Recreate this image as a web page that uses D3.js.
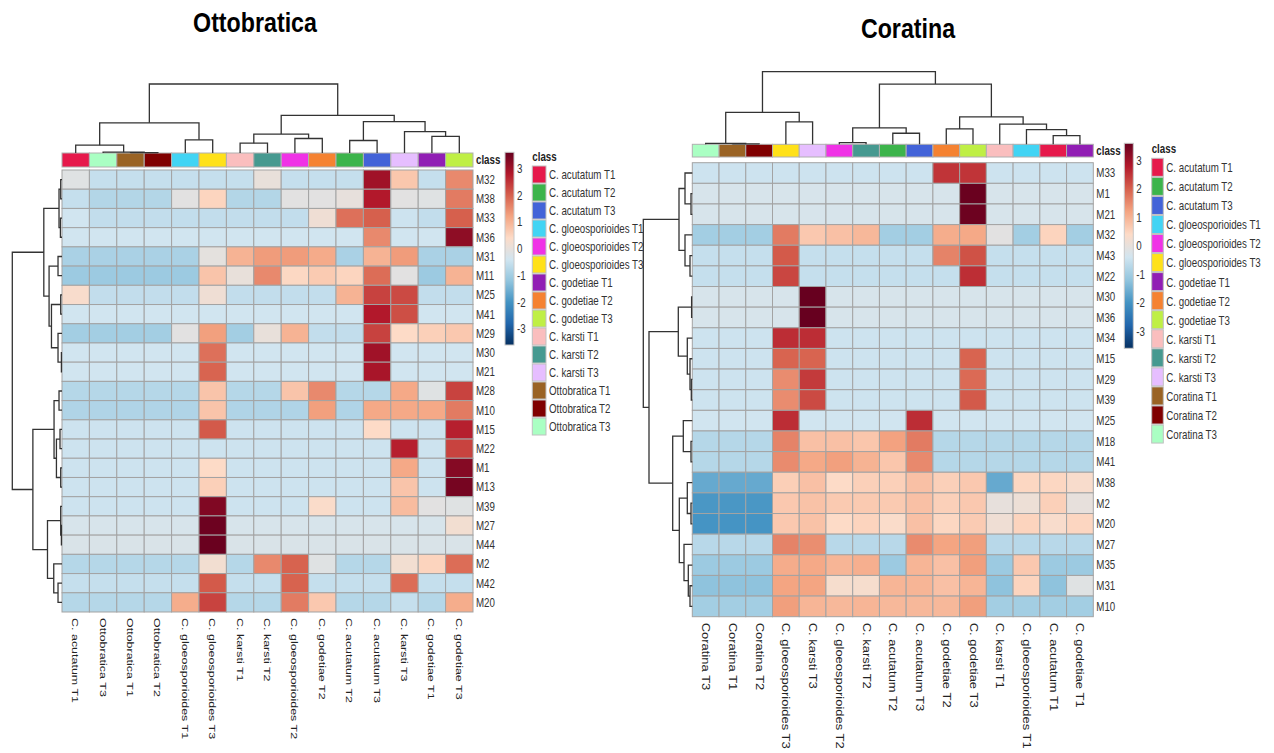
<!DOCTYPE html>
<html>
<head>
<meta charset="utf-8">
<script src="https://cdn.jsdelivr.net/npm/d3@7"></script>
<style>
  html, body { margin: 0; padding: 0; background: #fff; }
  svg { display: block; }
  text { font-family: "Liberation Sans", Arial, sans-serif; }
</style>
</head>
<body>
<svg id="chart" width="1274" height="753"></svg>
<script>
// ---------------- DATA ----------------
const classNames = ["C. acutatum T1","C. acutatum T2","C. acutatum T3","C. gloeosporioides T1","C. gloeosporioides T2","C. gloeosporioides T3","C. godetiae T1","C. godetiae T2","C. godetiae T3","C. karsti T1","C. karsti T2","C. karsti T3"];
const classColors = {
  "C. acutatum T1":"#E6194B","C. acutatum T2":"#3CB44B","C. acutatum T3":"#4363D8",
  "C. gloeosporioides T1":"#42D4F4","C. gloeosporioides T2":"#F032E6","C. gloeosporioides T3":"#FFE119",
  "C. godetiae T1":"#911EB4","C. godetiae T2":"#F58231","C. godetiae T3":"#BFEF45",
  "C. karsti T1":"#FABEBE","C. karsti T2":"#469990","C. karsti T3":"#E6BEFF",
  "Ottobratica T1":"#9A6324","Ottobratica T2":"#800000","Ottobratica T3":"#AAFFC3",
  "Coratina T1":"#9A6324","Coratina T2":"#800000","Coratina T3":"#AAFFC3"
};
const paletteStops = ["#053061","#2166AC","#4393C3","#92C5DE","#D1E5F0","#FDDBC7","#F4A582","#D6604D","#B2182B","#67001F"];
const scaleTicks = [3,2,1,0,-1,-2,-3];

// Ottobratica
const leftTitle = "Ottobratica";
const leftCols = ["C. acutatum T1","Ottobratica T3","Ottobratica T1","Ottobratica T2","C. gloeosporioides T1","C. gloeosporioides T3","C. karsti T1","C. karsti T2","C. gloeosporioides T2","C. godetiae T2","C. acutatum T2","C. acutatum T3","C. karsti T3","C. godetiae T1","C. godetiae T3"];
const leftRows = ["M32","M38","M33","M36","M31","M11","M25","M41","M29","M30","M21","M28","M10","M15","M22","M1","M13","M39","M27","M44","M2","M42","M20"];
const leftValues = [
  [-0.15,-0.55,-0.55,-0.55,-0.55,-0.55,-0.55,0.02,-0.55,-0.55,-0.55,2.99,0.7,-0.55,1.52],
  [-0.55,-0.78,-0.78,-0.78,-0.1,0.49,-0.78,-0.78,-0.1,-0.1,0.0,2.8,-0.1,-0.15,1.69],
  [-0.4,-0.59,-0.59,-0.59,-0.59,-0.59,-0.59,-0.59,-0.59,0.15,1.81,2.0,-0.45,-0.59,2.0],
  [-0.4,-0.4,-0.4,-0.4,-0.4,-0.4,-0.4,-0.4,-0.4,-0.4,-0.4,1.52,-0.4,-0.4,3.18],
  [-0.9,-0.9,-0.9,-0.9,-0.9,-0.05,0.99,1.31,1.31,1.11,-0.9,0.99,1.31,-0.9,-0.9],
  [-1.07,-1.07,-1.07,-1.07,-1.07,0.74,0.02,1.52,0.45,0.64,0.49,1.85,-0.1,-1.07,0.99],
  [0.3,-0.59,-0.59,-0.59,-0.59,0.15,-0.59,-0.59,-0.59,-0.59,0.99,2.33,2.24,-0.59,-0.59],
  [-0.4,-0.4,-0.4,-0.4,-0.4,-0.4,-0.4,-0.4,-0.4,-0.4,-0.4,2.8,2.19,-0.4,-0.4],
  [-0.98,-0.98,-0.98,-0.98,-0.1,1.26,-0.98,0.02,0.99,-0.59,-0.59,2.33,0.4,0.56,0.68],
  [-0.4,-0.4,-0.4,-0.4,-0.4,1.81,-0.4,-0.4,-0.4,-0.4,-0.4,2.99,-0.4,-0.4,-0.4],
  [-0.4,-0.4,-0.4,-0.4,-0.4,1.95,-0.4,-0.4,-0.4,-0.4,-0.4,2.91,-0.4,-0.4,-0.4],
  [-0.76,-0.76,-0.76,-0.76,-0.76,0.74,-0.76,-0.76,0.74,1.52,-0.76,-0.76,1.14,-0.15,2.32],
  [-0.82,-0.82,-0.82,-0.82,-0.82,0.74,-0.82,-0.82,-0.82,1.26,-0.82,1.14,1.14,1.14,1.69],
  [-0.45,-0.45,-0.45,-0.45,-0.45,2.07,-0.45,-0.45,-0.45,-0.45,-0.45,0.4,-0.45,-0.45,2.72],
  [-0.45,-0.45,-0.45,-0.45,-0.45,-0.45,-0.45,-0.45,-0.45,-0.45,-0.45,-0.45,2.72,-0.45,2.32],
  [-0.45,-0.45,-0.45,-0.45,-0.45,0.4,-0.45,-0.45,-0.45,-0.45,-0.45,-0.45,1.14,-0.45,3.28],
  [-0.45,-0.45,-0.45,-0.45,-0.45,0.56,-0.45,-0.45,-0.45,-0.45,-0.45,-0.45,0.74,-0.45,3.44],
  [-0.45,-0.45,-0.45,-0.45,-0.45,3.33,-0.45,-0.45,-0.45,0.35,-0.45,-0.45,0.86,-0.1,-0.15],
  [-0.3,-0.3,-0.3,-0.3,-0.3,3.54,-0.3,-0.3,-0.3,-0.3,-0.3,-0.3,-0.3,-0.3,0.2],
  [-0.25,-0.25,-0.25,-0.25,-0.25,3.57,-0.25,-0.25,-0.25,-0.25,-0.25,-0.25,-0.25,-0.25,-0.25],
  [-0.76,-0.76,-0.76,-0.76,-0.76,0.2,-0.76,1.52,1.97,-0.15,-0.76,-0.76,0.2,0.5,1.85],
  [-0.55,-0.55,-0.55,-0.55,-0.55,2.07,-0.55,-0.55,1.97,-0.55,-0.55,-0.55,1.85,-0.55,-0.55],
  [-0.76,-0.76,-0.76,-0.76,1.08,2.32,-0.76,-0.76,1.69,0.68,-0.76,-0.76,-0.55,-0.76,1.08]
];
// dendrograms: [mergeHeight, left, right], leaves = index in display order
const leftColTree = [68,[29.7,[7.7,0,[0.8,1,[0.4,2,3]]],[13,4,5]],[37,[18.7,[9.7,6,7],[14.3,8,9]],[31,[12.3,10,11],[21,12,[16.3,13,14]]]]];
const leftRowTree = [50,[18.3,[3,[1.3,0,1],[1.6,2,3]],[13,[4,4,5],[10.6,[1.3,6,7],[4,8,[0.6,9,10]]]]],[29.3,[8,[3,11,12],[5.6,[2,13,14],[1.3,15,16]]],[14.6,[1.3,17,[0.6,18,19]],[8.3,20,[4,21,22]]]]];
const leftLegend = classNames.concat(["Ottobratica T1","Ottobratica T2","Ottobratica T3"]);

// Coratina
const rightTitle = "Coratina";
const rightCols = ["Coratina T3","Coratina T1","Coratina T2","C. gloeosporioides T3","C. karsti T3","C. gloeosporioides T2","C. karsti T2","C. acutatum T2","C. acutatum T3","C. godetiae T2","C. godetiae T3","C. karsti T1","C. gloeosporioides T1","C. acutatum T1","C. godetiae T1"];
const rightRows = ["M33","M1","M21","M32","M43","M22","M30","M36","M34","M15","M29","M39","M25","M18","M41","M38","M2","M20","M27","M35","M31","M10"];
const rightValues = [
  [-0.45,-0.45,-0.45,-0.45,-0.45,-0.45,-0.45,-0.45,-0.45,2.49,2.49,-0.45,-0.45,-0.45,-0.45],
  [-0.3,-0.3,-0.3,-0.3,-0.3,-0.3,-0.3,-0.3,-0.3,-0.3,3.57,-0.3,-0.3,-0.3,-0.3],
  [-0.3,-0.3,-0.3,-0.3,-0.3,-0.3,-0.3,-0.3,-0.3,-0.3,3.54,-0.3,-0.3,-0.3,-0.3],
  [-0.98,-0.98,-0.98,1.69,0.68,0.8,0.92,-0.98,-0.98,1.08,1.14,-0.1,-0.98,0.5,-0.98],
  [-0.55,-0.55,-0.55,2.07,-0.55,-0.55,-0.55,-0.55,-0.55,1.6,2.16,-0.55,-0.55,-0.55,-0.55],
  [-0.55,-0.55,-0.55,2.29,-0.55,-0.55,-0.55,-0.55,-0.55,-0.55,2.56,-0.55,-0.55,-0.55,-0.55],
  [-0.3,-0.3,-0.3,-0.3,3.6,-0.3,-0.3,-0.3,-0.3,-0.3,-0.3,-0.3,-0.3,-0.3,-0.3],
  [-0.3,-0.3,-0.3,-0.3,3.6,-0.3,-0.3,-0.3,-0.3,-0.3,-0.3,-0.3,-0.3,-0.3,-0.3],
  [-0.45,-0.45,-0.45,2.57,2.57,-0.45,-0.45,-0.45,-0.45,-0.45,-0.45,-0.45,-0.45,-0.45,-0.45],
  [-0.45,-0.45,-0.45,1.95,1.95,-0.45,-0.45,-0.45,-0.45,-0.45,1.95,-0.45,-0.45,-0.45,-0.45],
  [-0.45,-0.45,-0.45,1.49,2.42,-0.45,-0.45,-0.45,-0.45,-0.45,1.88,-0.45,-0.45,-0.45,-0.45],
  [-0.45,-0.45,-0.45,1.49,2.24,-0.45,-0.45,-0.45,-0.45,-0.45,2.07,-0.45,-0.45,-0.45,-0.45],
  [-0.4,-0.4,-0.4,2.57,-0.4,-0.4,-0.4,-0.4,2.57,-0.4,-0.4,-0.4,-0.4,-0.4,-0.4],
  [-0.76,-0.76,-0.76,1.6,0.8,0.8,0.71,1.23,1.69,-0.76,-0.76,-0.76,-0.76,-0.76,-0.76],
  [-0.76,-0.76,-0.76,1.5,1.14,1.26,1.0,0.71,1.52,-0.76,-0.76,-0.76,-0.76,-0.76,-0.76],
  [-1.65,-1.65,-1.65,0.58,0.8,0.4,0.56,0.56,0.8,0.56,0.68,-1.65,0.46,0.46,0.3],
  [-1.93,-1.93,-1.93,0.68,0.77,0.65,0.65,0.65,0.8,0.56,0.68,0.0,0.1,0.56,0.0],
  [-1.98,-1.98,-1.98,0.68,0.77,0.4,0.5,0.35,0.8,0.46,0.63,0.15,0.5,0.3,0.47],
  [-0.72,-0.72,-0.72,1.6,1.47,-0.72,-0.72,-0.72,1.5,1.2,1.27,-0.72,-0.72,-0.72,-0.72],
  [-1.07,-1.07,-1.07,1.1,1.14,0.97,1.05,-1.07,0.97,0.8,1.27,-1.07,0.68,-1.07,-1.07],
  [-1.23,-1.23,-1.23,1.2,1.2,0.28,0.28,0.97,0.97,0.8,0.97,-1.23,0.5,-1.23,-0.15],
  [-0.98,-0.98,-0.98,1.27,0.97,0.92,0.97,0.92,0.92,0.92,1.27,-0.98,-0.98,-0.98,-0.98]
];
const rightColTree = [72.3,[31.7,[1,0,[0.5,1,2]],[22.3,3,4]],[60,[16.3,[1.7,5,6],[11,7,8]],[27.3,[15.3,9,10],[20,11,[14.7,12,[8.7,13,14]]]]]];
const rightRowTree = [49,[13.3,[7.3,0,[1.3,1,2]],[7.3,3,[2.3,4,5]]],[43.3,[14,[0.7,6,7],[5,8,[2.3,9,[1,10,11]]]],[19.6,[9,12,[1.3,13,14]],[13,[5,15,[1.3,16,17]],[8.3,18,[4,19,[2.3,20,21]]]]]]];
const rightLegend = classNames.concat(["Coratina T1","Coratina T2","Coratina T3"]);

// ---------------- DRAW ----------------
const svg = d3.select("#chart");
const vmin = -3.6, vmax = 3.6;
const NARROW = 0.78;   // horizontal squeeze of the condensed label font
const color = d3.scaleLinear()
  .domain(d3.range(paletteStops.length).map(k => vmin + (vmax - vmin) * k / (paletteStops.length - 1)))
  .range(paletteStops).interpolate(d3.interpolateRgb).clamp(true);

const defs = svg.append("defs");
const grad = defs.append("linearGradient").attr("id","cbar").attr("x1",0).attr("y1",1).attr("x2",0).attr("y2",0);
paletteStops.forEach((c,k) => grad.append("stop").attr("offset", k/(paletteStops.length-1)).attr("stop-color", c));

function drawPanel(cfg) {
  const g = svg.append("g");
  const x = d3.scaleBand().domain(d3.range(cfg.cols.length)).range([cfg.x0, cfg.x1]);
  const y = d3.scaleBand().domain(d3.range(cfg.rows.length)).range([cfg.y0, cfg.y1]);

  // cells
  const cells = [];
  cfg.values.forEach((row, r) => row.forEach((v, c) => cells.push({r, c, v})));
  g.append("g").selectAll("rect").data(cells).join("rect")
    .attr("x", d => x(d.c)).attr("y", d => y(d.r))
    .attr("width", x.bandwidth()).attr("height", y.bandwidth())
    .attr("fill", d => color(d.v)).attr("stroke", "#a3a3a3").attr("stroke-width", 1);

  // class bar
  g.append("g").selectAll("rect").data(cfg.cols).join("rect")
    .attr("x", (d,i) => x(i)).attr("y", cfg.barY0)
    .attr("width", x.bandwidth()).attr("height", cfg.barY1 - cfg.barY0)
    .attr("fill", d => classColors[d]).attr("stroke", "#b0b0b0").attr("stroke-width", 1);
  g.append("text")
    .attr("transform", `translate(${cfg.x1 + 3},${(cfg.barY0 + cfg.barY1)/2}) scale(${NARROW},1)`).attr("dy","0.35em")
    .attr("font-size", 12.5).attr("font-weight","bold").attr("fill","#222").text("class");

  // row labels
  g.append("g").selectAll("text").data(cfg.rows).join("text")
    .attr("transform", (d,i) => `translate(${cfg.x1 + 3},${y(i) + y.bandwidth()/2}) scale(${NARROW},1)`).attr("dy","0.35em")
    .attr("font-size", 12.5).attr("fill","#333").text(d => d);

  // column labels (reading downward; glyph height squeezed like the rest of the figure)
  g.append("g").selectAll("text").data(cfg.cols).join("text")
    .attr("transform", (d,i) => `translate(${x(i) + x.bandwidth()/2 - 3.5},${cfg.y1 + 6}) rotate(90) scale(1,${NARROW})`)
    .attr("font-size", cfg.colFont).attr("fill","#222").text(d => d);

  // dendrograms
  function drawTree(tree, leafPos, hScale, orient) {
    const paths = [];
    function rec(n) {
      if (typeof n === "number") return {p: leafPos(n), h: 0};
      const A = rec(n[1]), B = rec(n[2]);
      const H = hScale(n[0]);
      if (orient === "top") paths.push(`M${A.p},${hScale(A.h)}V${H}H${B.p}V${hScale(B.h)}`);
      else paths.push(`M${hScale(A.h)},${A.p}H${H}V${B.p}H${hScale(B.h)}`);
      return {p: (A.p + B.p)/2, h: n[0]};
    }
    rec(tree);
    g.append("g").selectAll("path").data(paths).join("path")
      .attr("d", d => d).attr("fill","none").attr("stroke","#333").attr("stroke-width",1.3);
  }
  drawTree(cfg.colTree, i => x(i) + x.bandwidth()/2,
    d3.scaleLinear().domain([0, cfg.colTree[0]]).range([cfg.colBase, cfg.colTop]), "top");
  drawTree(cfg.rowTree, i => y(i) + y.bandwidth()/2,
    d3.scaleLinear().domain([0, cfg.rowTree[0]]).range([cfg.rowBase, cfg.rowTop]), "left");

  // color bar legend
  const cy = d3.scaleLinear().domain([vmin, vmax]).range([cfg.cbY1, cfg.cbY0]);
  g.append("rect").attr("x", cfg.cbX).attr("y", cfg.cbY0).attr("width", 9).attr("height", cfg.cbY1 - cfg.cbY0)
    .attr("fill","url(#cbar)").attr("stroke","#c8c8c8").attr("stroke-width",1);
  g.append("g").selectAll("text").data(scaleTicks).join("text")
    .attr("transform", d => `translate(${cfg.cbX + 12},${cy(d)}) scale(${NARROW},1)`).attr("dy","0.35em")
    .attr("font-size", 12.5).attr("fill","#333").text(d => d);

  // class legend
  g.append("text").attr("transform", `translate(${cfg.lgX},${cfg.lgY0 - 5}) scale(${NARROW},1)`)
    .attr("font-size", 12.5).attr("font-weight","bold").attr("fill","#222").text("class");
  const lg = g.append("g").selectAll("g").data(cfg.legend).join("g")
    .attr("transform", (d,i) => `translate(${cfg.lgX},${cfg.lgY0 + i*cfg.lgStep})`);
  lg.append("rect").attr("width", cfg.lgW).attr("height", cfg.lgStep - 1)
    .attr("fill", d => classColors[d]).attr("stroke","#c0c0c0").attr("stroke-width",1);
  lg.append("text").attr("transform", `translate(${cfg.lgW + 3},${cfg.lgStep/2}) scale(${NARROW},1)`).attr("dy","0.35em")
    .attr("font-size", 12.5).attr("fill","#333").text(d => d);

  // title
  svg.append("text").attr("transform", `translate(${cfg.titleX},${cfg.titleY}) scale(0.86,1)`)
    .attr("text-anchor","middle").attr("font-size", 27).attr("font-weight","bold").attr("fill","#000")
    .text(cfg.title);
}

drawPanel({
  title: leftTitle, titleX: 255, titleY: 32,
  cols: leftCols, rows: leftRows, values: leftValues,
  x0: 62, x1: 473, y0: 170, y1: 612, barY0: 153, barY1: 167,
  colTree: leftColTree, colBase: 153, colTop: 84,
  rowTree: leftRowTree, rowBase: 62, rowTop: 12.3,
  colFont: 12.5,
  cbX: 505, cbY0: 152.3, cbY1: 345,
  legend: leftLegend, lgX: 532.3, lgY0: 166, lgStep: 18, lgW: 13.7
});
drawPanel({
  title: rightTitle, titleX: 908, titleY: 38,
  cols: rightCols, rows: rightRows, values: rightValues,
  x0: 692.3, x1: 1093.3, y0: 162.7, y1: 616.7, barY0: 144.3, barY1: 157,
  colTree: rightColTree, colBase: 144.3, colTop: 71.7,
  rowTree: rightRowTree, rowBase: 692.3, rowTop: 643.3,
  colFont: 13,
  cbX: 1124.3, cbY0: 143.3, cbY1: 348.3,
  legend: rightLegend, lgX: 1151.7, lgY0: 158.3, lgStep: 19.05, lgW: 11.6
});
</script>
</body>
</html>
